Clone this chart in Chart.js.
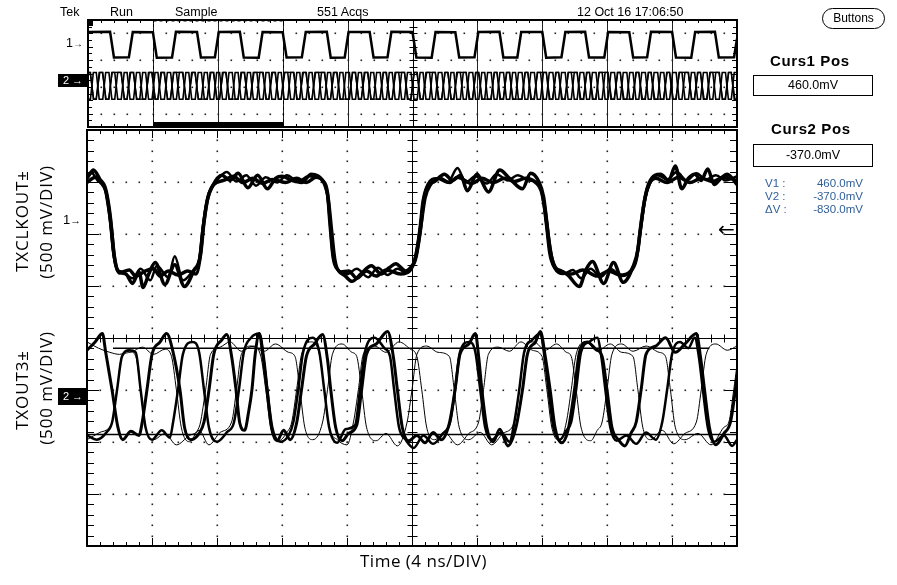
<!DOCTYPE html>
<html>
<head>
<meta charset="utf-8">
<script src="https://cdn.jsdelivr.net/npm/chart.js@4.4.1/dist/chart.umd.min.js"></script>
<style>
    body { margin: 0; background: #fff; width: 897px; height: 585px; overflow: hidden; position: relative; font-family: 'Liberation Sans', Arial, sans-serif; }
    canvas { position: absolute; left: 0; top: 0; }
    .t { position: absolute; white-space: nowrap; color: #000; line-height: 1; }
    .hdr { font-size: 12.5px; top: 6px; }
    .curs { font-size: 15px; font-weight: bold; letter-spacing: 0.6px; }
    .box { position: absolute; border: 1.5px solid #000; font-size: 12.5px; text-align: center; box-sizing: border-box; }
    .read { position: absolute; font-size: 11.5px; color: #2f5f98; line-height: 13px; }
    .read span { display: inline-block; }
    .side { font-family: 'Open Sans', sans-serif; font-size: 17px; letter-spacing: 0.9px; transform: translate(-50%, -50%) rotate(-90deg); }
    .mk2 { position: absolute; background: #000; color: #fff; font-size: 11px; text-align: center; }
</style>
</head>
<body>
<canvas id="stripCanvas" width="897" height="585"></canvas>
<canvas id="mainCanvas" width="897" height="585"></canvas>

<div class="t hdr" style="left:60px">Tek</div>
<div class="t hdr" style="left:110px">Run</div>
<div class="t hdr" style="left:175px">Sample</div>
<div class="t hdr" style="left:317px">551 Acqs</div>
<div class="t hdr" style="left:577px">12 Oct 16 17:06:50</div>
<div class="box" style="left:822px;top:8px;width:63px;height:21px;border-radius:11px;font-size:12px;line-height:18px">Buttons</div>

<div class="t curs" style="left:770px;top:53px">Curs1 Pos</div>
<div class="box" id="curs1Box" style="left:753px;top:75px;width:120px;height:21px;line-height:18px"></div>
<div class="t curs" style="left:771px;top:121px">Curs2 Pos</div>
<div class="box" id="curs2Box" style="left:753px;top:144px;width:120px;height:23px;line-height:20px"></div>
<div class="read" id="readout" style="left:765px;top:177px;width:98px"></div>

<div class="t side" style="left:21px;top:221px">TXCLKOUT±</div>
<div class="t side" style="left:45px;top:222px">(500 mV/DIV)</div>
<div class="t side" style="left:21px;top:390px">TXOUT3±</div>
<div class="t side" style="left:45px;top:388px">(500 mV/DIV)</div>
<div class="t" style="left:360px;top:552px;font-family:'Open Sans',sans-serif;font-size:17px;letter-spacing:0.5px">Time (4 ns/DIV)</div>

<div class="t" style="left:66px;top:37px;font-size:12.5px">1<span style="font-size:10px">→</span></div>
<div class="mk2" style="left:58px;top:74px;width:30px;height:13px;line-height:13px">2 →</div>
<div class="t" style="left:63px;top:213px;font-size:13px">1<span style="font-size:11px">→</span></div>
<div class="mk2" style="left:58px;top:388px;width:30px;height:17px;line-height:17px">2 →</div>
<div class="t" style="left:718px;top:219px;font-size:20px;font-family:'DejaVu Sans',sans-serif">←</div>

<script>
// Scope settings
const voltsPerDiv = 500;          // mV per division, both channels
const mainTimeSpan = 40;          // ns across the main window (4 ns/DIV)
const stripTimeSpan = 200;        // ns across the overview strip
const zoomWindow = [20, 60];      // ns, main window inside the strip

// Cursor readings (mV, channel 2)
const curs1 = 460.0;
const curs2 = -370.0;
const curs1Span = [1.6, 38.3];    // ns

// Channel ground offsets, in divisions from centre
const ch1Offset = 2.23;
const ch2Offset = -1.115;
const stripCh1Offset = 2.2;
const stripCh2Offset = -0.9;

// TXCLKOUT± traces, [ns, mV]
const ch1TraceA = [[0,420],[0.4,500],[0.8,410],[1.1,340],[1.3,200],[1.45,30],[1.65,-300],[1.9,-470],[2.4,-500],[2.8,-590],[3.2,-480],[3.45,-630],[3.8,-500],[4.2,-390],[4.8,-600],[5.4,-410],[6.0,-620],[6.6,-460],[6.95,-340],[7.15,-50],[7.4,210],[7.7,340],[8.3,450],[8.8,400],[9.3,470],[9.9,330],[10.5,450],[11.1,320],[11.6,420],[12.0,440],[12.6,400],[13.2,380],[13.8,460],[14.5,400],[14.8,280],[14.95,-10],[15.15,-340],[15.45,-460],[15.9,-520],[16.3,-570],[16.9,-490],[17.5,-420],[18.1,-500],[18.6,-440],[19.0,-400],[19.6,-470],[20.0,-420],[20.2,-365],[20.5,-100],[20.7,180],[20.9,320],[21.4,390],[22.0,460],[22.5,400],[23.0,450],[23.4,300],[24.0,460],[24.7,290],[25.4,500],[26.0,420],[26.8,320],[27.3,470],[27.8,390],[28.1,240],[28.3,-10],[28.5,-270],[28.8,-430],[29.2,-470],[29.6,-510],[30.3,-620],[30.7,-460],[31.1,-380],[31.8,-590],[32.4,-390],[33.0,-580],[33.6,-430],[33.9,-270],[34.1,-10],[34.35,240],[34.6,380],[35.3,460],[35.8,400],[36.2,540],[36.6,320],[37.0,420],[37.4,460],[37.8,400],[38.2,510],[38.6,360],[39.0,420],[39.4,460],[40,360]];
const ch1TraceB = [[0,380],[0.5,430],[0.9,370],[1.15,300],[1.35,120],[1.5,-60],[1.7,-350],[2.0,-490],[2.6,-460],[3.0,-520],[3.6,-470],[4.1,-450],[4.5,-520],[5.0,-470],[5.6,-510],[6.2,-470],[6.7,-500],[7.0,-300],[7.2,0],[7.45,240],[7.8,360],[8.4,400],[9.0,440],[9.6,380],[10.2,420],[10.8,370],[11.4,410],[12.2,380],[12.9,420],[13.5,380],[14.1,430],[14.6,370],[14.85,220],[15.05,-80],[15.25,-360],[15.6,-480],[16.1,-470],[16.6,-540],[17.2,-470],[17.8,-520],[18.4,-460],[19.3,-500],[19.9,-460],[20.25,-320],[20.55,-30],[20.8,230],[21.1,350],[21.7,420],[22.3,380],[22.8,430],[23.7,370],[24.3,420],[25.0,380],[25.7,420],[26.3,390],[27.0,420],[27.6,380],[27.95,300],[28.2,100],[28.4,-150],[28.65,-380],[29.0,-470],[29.8,-500],[30.5,-460],[31.4,-520],[32.1,-470],[32.8,-510],[33.4,-480],[33.8,-360],[34.05,-80],[34.3,200],[34.55,350],[35.0,420],[35.7,380],[36.4,430],[37.1,380],[37.8,420],[38.5,390],[39.2,430],[40,400]];
const ch1TraceC = [[0,430],[0.3,470],[0.7,390],[1.05,350],[1.28,180],[1.42,0],[1.6,-280],[1.85,-450],[2.2,-480],[2.8,-540],[3.3,-450],[3.9,-560],[4.3,-420],[5.0,-530],[5.4,-330],[5.9,-560],[6.5,-470],[6.9,-360],[7.1,-80],[7.35,180],[7.65,330],[8.1,420],[8.6,480],[9.2,390],[9.8,450],[10.4,350],[11.0,430],[11.7,380],[12.3,450],[13.0,390],[13.6,440],[14.3,420],[14.75,300],[14.92,40],[15.1,-290],[15.4,-450],[16.0,-500],[16.6,-450],[17.3,-530],[17.9,-440],[18.5,-510],[19.1,-450],[19.7,-490],[20.15,-360],[20.45,-80],[20.65,200],[20.95,360],[21.5,420],[22.2,380],[22.8,520],[23.3,380],[23.9,440],[24.6,370],[25.2,460],[25.9,400],[26.5,450],[27.2,400],[27.85,370],[28.05,220],[28.25,-30],[28.45,-300],[28.75,-440],[29.3,-500],[29.9,-460],[30.4,-540],[31.0,-450],[31.6,-530],[32.2,-450],[32.9,-520],[33.5,-460],[33.85,-320],[34.1,-40],[34.35,220],[34.65,370],[35.1,450],[35.7,410],[36.3,480],[36.9,400],[37.5,470],[38.1,410],[38.7,450],[39.3,400],[40,440]];

// TXOUT3± traces, [ns, mV]
const ch2TraceA = [[0,440],[0.5,520],[0.95,600],[1.15,420],[1.54,60],[1.9,-300],[2.2,-420],[2.7,-340],[3.2,-380],[3.4,-250],[3.69,60],[4.0,400],[4.5,520],[4.9,600],[5.3,420],[5.72,60],[6.0,-300],[6.4,-420],[6.9,-360],[7.2,-250],[7.51,60],[7.8,400],[8.3,540],[8.6,590],[8.9,380],[9.17,60],[9.4,-260],[9.7,-330],[9.95,-150],[10.15,60],[10.35,400],[10.6,600],[10.85,350],[11.08,60],[11.35,-300],[11.7,-430],[12.1,-330],[12.5,-420],[12.9,-260],[13.2,60],[13.5,380],[14.0,500],[14.5,590],[14.8,350],[15.0,60],[15.3,-300],[15.7,-430],[16.1,-360],[16.6,-280],[16.9,60],[17.2,400],[17.8,500],[18.5,620],[18.85,380],[19.1,60],[19.4,-300],[19.8,-430],[20.3,-380],[20.8,-450],[21.3,-350],[21.8,-420],[22.3,-260],[22.65,60],[22.95,400],[23.5,500],[23.9,600],[24.1,380],[24.3,60],[24.6,-300],[25.0,-440],[25.4,-320],[25.9,-480],[26.4,-300],[26.8,60],[27.1,400],[27.6,520],[27.9,620],[28.2,380],[28.5,60],[28.8,-300],[29.2,-450],[29.6,-330],[30.0,60],[30.3,420],[30.8,520],[31.3,450],[31.7,380],[32.0,60],[32.3,-300],[32.7,-420],[33.1,-480],[33.5,-350],[33.8,-250],[34.1,60],[34.4,400],[35.0,480],[35.6,560],[36.2,420],[36.8,500],[37.5,600],[37.75,380],[38.0,60],[38.3,-300],[38.7,-470],[39.2,-360],[39.6,-250],[39.9,60],[40,200]];
const ch2TraceB = [[0,-380],[0.6,-420],[1.2,-350],[1.55,-250],[1.85,60],[2.15,380],[2.6,440],[3.0,420],[3.3,60],[3.6,-300],[4.0,-420],[4.6,-330],[5.1,-400],[5.3,-250],[5.6,60],[5.9,400],[6.5,520],[6.9,420],[7.2,60],[7.5,-300],[8.0,-440],[8.6,-350],[9.05,-250],[9.35,60],[9.65,420],[10.1,560],[10.6,600],[10.9,350],[11.1,60],[11.4,-300],[11.9,-440],[12.4,-380],[12.7,-250],[13.0,60],[13.3,420],[13.9,560],[14.3,420],[14.6,60],[14.9,-300],[15.4,-450],[15.9,-320],[16.5,-280],[16.8,60],[17.1,420],[17.7,560],[18.3,460],[18.65,380],[18.9,60],[19.2,-300],[19.6,-420],[20.1,-500],[20.7,-380],[21.3,-460],[21.9,-360],[22.35,-250],[22.65,60],[22.95,420],[23.5,520],[23.9,420],[24.2,60],[24.5,-300],[24.9,-420],[25.5,-350],[26.0,-440],[26.3,-250],[26.6,60],[26.9,420],[27.4,540],[27.9,600],[28.15,380],[28.4,60],[28.7,-300],[29.1,-420],[29.5,-330],[29.8,-250],[30.1,60],[30.4,420],[30.9,520],[31.4,560],[31.65,380],[31.9,60],[32.2,-300],[32.6,-430],[33.2,-380],[33.8,-460],[34.4,-350],[35.0,-420],[35.4,-250],[35.7,60],[36.0,400],[36.5,520],[37.0,460],[37.4,560],[37.65,380],[37.9,60],[38.2,-300],[38.6,-440],[39.2,-380],[39.7,-480],[40,-420]];
const ch2TraceC = [[0,520],[0.7,460],[1.4,420],[2.0,400],[2.6,430],[3.0,380],[3.3,60],[3.6,-300],[4.1,-420],[4.8,-360],[5.5,-470],[6.3,-380],[6.9,-300],[7.3,60],[7.6,400],[8.2,470],[8.8,520],[9.5,430],[10.2,480],[10.7,380],[11.0,60],[11.3,-300],[11.8,-430],[12.3,-350],[12.6,-250],[12.9,60],[13.2,400],[13.8,520],[14.3,400],[14.6,60],[14.9,-300],[15.4,-420],[16.0,-470],[16.4,-250],[16.7,60],[17.0,400],[17.7,480],[18.4,420],[19.2,520],[19.9,450],[20.3,380],[20.6,60],[20.9,-300],[21.4,-420],[22.0,-350],[22.8,-470],[23.5,-360],[24.1,-250],[24.4,60],[24.7,400],[25.3,470],[26.0,430],[26.7,520],[27.4,440],[28.0,380],[28.3,60],[28.6,-300],[29.1,-430],[29.5,-250],[29.8,60],[30.1,400],[30.7,520],[31.4,430],[32.2,500],[32.9,420],[33.6,380],[33.9,60],[34.2,-300],[34.7,-420],[35.4,-330],[36.1,-460],[36.8,-360],[37.5,-250],[37.8,60],[38.1,400],[38.7,500],[39.4,440],[40,480]];
const ch2TraceD = [[0,-420],[0.8,-350],[1.55,-250],[1.85,60],[2.15,380],[2.7,420],[3.4,470],[4.1,400],[4.8,450],[5.2,380],[5.5,60],[5.8,-300],[6.3,-440],[6.9,-330],[7.5,-470],[8.2,-350],[8.9,-250],[9.2,60],[9.5,400],[10.1,480],[10.9,430],[11.6,500],[12.4,420],[12.8,380],[13.1,60],[13.4,-300],[13.9,-420],[14.5,-250],[14.8,60],[15.1,400],[15.7,500],[16.3,420],[16.6,380],[16.9,60],[17.2,-300],[17.8,-430],[18.4,-360],[19.1,-480],[19.7,-250],[20.0,60],[20.3,400],[20.9,480],[21.6,420],[22.3,380],[22.6,60],[22.9,-300],[23.5,-420],[24.2,-350],[24.9,-470],[25.6,-360],[26.3,-250],[26.6,60],[26.9,400],[27.5,520],[28.2,440],[28.9,500],[29.5,420],[29.8,380],[30.1,60],[30.4,-300],[31.0,-430],[31.4,-330],[31.7,-250],[32.0,60],[32.3,400],[32.9,500],[33.6,430],[34.4,480],[35.2,420],[35.6,380],[35.9,60],[36.2,-300],[36.8,-420],[37.6,-360],[38.4,-470],[39.2,-300],[39.5,-250],[39.8,60],[40,300]];

// Overview strip, channel 1 [ns, mV]
const stripCh1 = [[0,450],[6.8,460],[8.0,-500],[12.6,-490],[13.8,450],[20.0,440],[21.2,-510],[25.9,-500],[27.1,460],[33.6,450],[34.8,-500],[39.1,-490],[40.3,450],[46.8,460],[48.0,-500],[52.6,-510],[53.8,450],[60.0,440],[61.2,-500],[65.9,-490],[67.1,450],[73.6,460],[74.8,-510],[79.1,-500],[80.3,450],[86.8,450],[88.0,-500],[92.3,-490],[93.5,460],[100.0,450],[101.2,-500],[105.9,-510],[107.1,450],[113.2,440],[114.4,-500],[119.1,-490],[120.3,450],[126.8,460],[128.0,-500],[132.3,-500],[133.5,450],[140.0,450],[141.2,-510],[145.9,-490],[147.1,450],[153.2,460],[154.4,-500],[159.1,-500],[160.3,450],[166.8,440],[168.0,-500],[172.3,-490],[173.5,460],[180.0,450],[181.2,-500],[185.9,-510],[187.1,450],[193.2,460],[194.4,-500],[199.1,-490],[200,200]];

// Overview strip, channel 2 bit edges (ns) and levels (mV)
const stripCh2Edges = [1.2,3.0,5.0,6.9,8.7,10.7,12.5,14.5,16.4,18.2,20.2,22.0,24.0,25.9,27.7,29.7,31.5,33.5,35.4,37.2,39.2,41.0,43.0,44.9,46.7,48.7,50.5,52.5,54.4,56.2,58.2,60.0,62.0,63.9,65.7,67.7,69.5,71.5,73.4,75.2,77.2,79.0,81.0,82.9,84.7,86.7,88.5,90.5,92.4,94.2,96.2,98.0,100.0,101.9,103.7,105.7,107.5,109.5,111.4,113.2,115.2,117.0,119.0,120.9,122.7,124.7,126.5,128.5,130.4,132.2,134.2,136.0,138.0,139.9,141.7,143.7,145.5,147.5,149.4,151.2,153.2,155.0,157.0,158.9,160.7,162.7,164.5,166.5,168.4,170.2,172.2,174.0,176.0,177.9,179.7,181.7,183.5,185.5,187.4,189.2,191.2,193.0,195.0,196.9,198.7];
const stripCh2SparseEdges = [1.2,3.1,5.0,6.9,10.7,12.6,14.5,18.3,20.2,22.1,24.0,25.9,29.7,31.6,33.5,37.3,39.2,41.1,43.0,46.8,48.7,50.6,54.4,56.3,58.2,60.1,63.9,65.8,67.7,69.6,73.4,75.3,77.2,81.0,82.9,84.8,86.7,90.5,92.4,94.3,98.1,100.0,101.9,103.8,107.6,109.5,111.4,113.3,117.1,119.0,120.9,124.7,126.6,128.5,130.4,134.2,136.1,138.0,141.8,143.7,145.6,147.5,151.3,153.2,155.1,157.0,160.8,162.7,164.6,168.4,170.3,172.2,174.1,177.9,179.8,181.7,185.5,187.4,189.3,191.2,195.0,196.9,198.8];
const stripCh2Levels = [490, -510];

// Side panel texts
document.getElementById('curs1Box').textContent = curs1.toFixed(1) + 'mV';
document.getElementById('curs2Box').textContent = curs2.toFixed(1) + 'mV';
document.getElementById('readout').innerHTML = [
    ['V1 :', curs1], ['V2 :', curs2], ['ΔV :', curs2 - curs1]
].map(r => `<div><span style="width:34px">${r[0]}</span><span style="float:right">${r[1].toFixed(1)}mV</span></div>`).join('');

// mV trace -> points in divisions
function toDiv(trace, offset) {
    return trace.map(p => ({ x: p[0], y: offset + p[1] / voltsPerDiv }));
}

// Square-ish trace from a list of edge times
function edgesToTrace(edges, levels, startIdx, half) {
    let idx = startIdx;
    const pts = [[0, levels[idx]]];
    edges.forEach(e => {
        pts.push([e - half, levels[idx]]);
        idx = 1 - idx;
        pts.push([e + half, levels[idx]]);
    });
    pts.push([stripTimeSpan, levels[idx]]);
    return pts;
}

function trace(data, width, smooth = true) {
    return {
        data: data,
        borderColor: '#000',
        borderWidth: width,
        pointRadius: 0,
        cubicInterpolationMode: smooth ? 'monotone' : 'default',
        tension: 0,
        fill: false
    };
}

// Graticule: dotted grid, centre axes with ticks, border ticks
const scopeGrid = {
    id: 'scopeGrid',
    beforeDatasetsDraw(chart, args, opts) {
        const { ctx, chartArea: a, scales: { x, y } } = chart;
        const xDiv = (x.max - x.min) / 10;
        const px = v => Math.round(x.getPixelForValue(v));
        const py = v => Math.round(y.getPixelForValue(v));
        ctx.save();
        ctx.fillStyle = '#222';

        // dotted verticals
        for (let d = 1; d < 10; d++) {
            if (d === 5) continue;
            const X = px(x.min + d * xDiv);
            if (opts.solidVerticals) {
                ctx.fillRect(X, a.top, 1, a.bottom - a.top);
                continue;
            }
            for (let k = 1; k < 40; k++) ctx.fillRect(X - 0.5, py(-4 + k * 0.2) - 0.5, 1.6, 1.6);
        }
        // dotted horizontals
        opts.dotRows.forEach(r => {
            const Y = py(r);
            for (let k = 1; k < 50; k++) ctx.fillRect(px(x.min + k * xDiv / 5) - 0.5, Y - 0.5, 1.6, 1.6);
        });

        ctx.strokeStyle = '#000';
        ctx.lineWidth = 1;
        const cx = px(x.min + 5 * xDiv) + 0.5;
        const cy = py(0) + 0.5;
        // centre vertical axis
        ctx.beginPath();
        ctx.moveTo(cx, a.top); ctx.lineTo(cx, a.bottom);
        for (let v = -4; v <= 4.001; v += opts.vTick) {
            const Y = py(v) + 0.5;
            ctx.moveTo(cx - opts.tickLen, Y); ctx.lineTo(cx + opts.tickLen, Y);
        }
        // left and right border ticks
        for (let v = -4; v <= 4.001; v += opts.vTick) {
            const Y = py(v) + 0.5;
            const major = Math.abs(v - Math.round(v)) < 0.01;
            const len = major ? opts.borderMajor : opts.borderMinor;
            ctx.moveTo(a.left, Y); ctx.lineTo(a.left + len, Y);
            ctx.moveTo(a.right, Y); ctx.lineTo(a.right - len, Y);
        }
        if (opts.centreH) {
            ctx.moveTo(a.left, cy); ctx.lineTo(a.right, cy);
            for (let k = 0; k <= 50; k++) {
                const X = px(x.min + k * xDiv / 5) + 0.5;
                ctx.moveTo(X, cy - 4); ctx.lineTo(X, cy + 4);
            }
        }
        // top and bottom border ticks
        for (let k = 0; k <= 50; k++) {
            const X = px(x.min + k * xDiv / 5) + 0.5;
            const len = k % 5 === 0 ? opts.topMajor : opts.topMinor;
            ctx.moveTo(X, a.top); ctx.lineTo(X, a.top + len);
            ctx.moveTo(X, a.bottom); ctx.lineTo(X, a.bottom - len);
        }
        ctx.stroke();

        ctx.lineWidth = 2;
        ctx.strokeRect(a.left, a.top, a.right - a.left, a.bottom - a.top);

        // zoom window box on the overview
        if (opts.zoomBox) {
            const x0 = px(opts.zoomBox[0]) + 0.5, x1 = px(opts.zoomBox[1]) + 0.5;
            ctx.lineWidth = 1;
            ctx.setLineDash([3, 3]);
            ctx.beginPath();
            ctx.moveTo(x0, a.bottom - 4); ctx.lineTo(x0, a.top + 1);
            ctx.lineTo(x1, a.top + 1); ctx.lineTo(x1, a.bottom - 4);
            ctx.stroke();
            ctx.setLineDash([]);
            ctx.fillStyle = '#000';
            ctx.fillRect(x0, a.bottom - 5, x1 - x0, 4);
            ctx.fillRect(a.left, a.top, 5, 6);
        }
        ctx.restore();
    }
};

// Overview strip
new Chart(document.getElementById('stripCanvas'), {
    type: 'line',
    data: {
        datasets: [
            trace(toDiv(stripCh1, stripCh1Offset), 2.5, false),
            trace(toDiv(edgesToTrace(stripCh2Edges, stripCh2Levels, 0, 0.45), stripCh2Offset), 1.6, false),
            trace(toDiv(edgesToTrace(stripCh2Edges, stripCh2Levels, 1, 0.45), stripCh2Offset), 1.6, false),
            trace(toDiv(edgesToTrace(stripCh2SparseEdges, stripCh2Levels, 0, 0.6), stripCh2Offset), 1.2, false)
        ]
    },
    options: {
        responsive: false,
        animation: false,
        events: [],
        devicePixelRatio: 1,
        layout: { padding: { left: 88, top: 20, right: 160, bottom: 458 } },
        scales: {
            x: { type: 'linear', min: 0, max: stripTimeSpan, display: false },
            y: { type: 'linear', min: -4, max: 4, display: false }
        },
        plugins: {
            legend: { display: false },
            tooltip: { enabled: false },
            scopeGrid: {
                solidVerticals: true, dotRows: [3, 1, -1, -3], vTick: 0.5, tickLen: 4,
                borderMajor: 5, borderMinor: 4, centreH: false, topMajor: 3, topMinor: 3,
                zoomBox: zoomWindow
            }
        }
    },
    plugins: [scopeGrid]
});

// Main window
const cursorLine = (y, x0, x1) => ({
    data: [{ x: x0, y: y }, { x: x1, y: y }],
    borderColor: '#000', borderWidth: 1.5, pointRadius: 0
});

new Chart(document.getElementById('mainCanvas'), {
    type: 'line',
    data: {
        datasets: [
            cursorLine(ch2Offset + curs1 / voltsPerDiv, curs1Span[0], curs1Span[1]),
            cursorLine(ch2Offset + curs2 / voltsPerDiv, 0, mainTimeSpan),
            trace(toDiv(ch1TraceA, ch1Offset), 3.5),
            trace(toDiv(ch1TraceB, ch1Offset), 3.5),
            trace(toDiv(ch1TraceC, ch1Offset), 2.5),
            trace(toDiv(ch2TraceC, ch2Offset), 1),
            trace(toDiv(ch2TraceD, ch2Offset), 1),
            trace(toDiv(ch2TraceA, ch2Offset), 3),
            trace(toDiv(ch2TraceB, ch2Offset), 2.5)
        ]
    },
    options: {
        responsive: false,
        animation: false,
        events: [],
        devicePixelRatio: 1,
        layout: { padding: { left: 87, top: 130, right: 160, bottom: 39 } },
        scales: {
            x: { type: 'linear', min: 0, max: mainTimeSpan, display: false },
            y: { type: 'linear', min: -4, max: 4, display: false }
        },
        plugins: {
            legend: { display: false },
            tooltip: { enabled: false },
            scopeGrid: {
                solidVerticals: false, dotRows: [3, 2, 1, -1, -2, -3], vTick: 0.2, tickLen: 5,
                borderMajor: 12, borderMinor: 7, centreH: true, topMajor: 8, topMinor: 4
            }
        }
    },
    plugins: [scopeGrid]
});
</script>
</body>
</html>
